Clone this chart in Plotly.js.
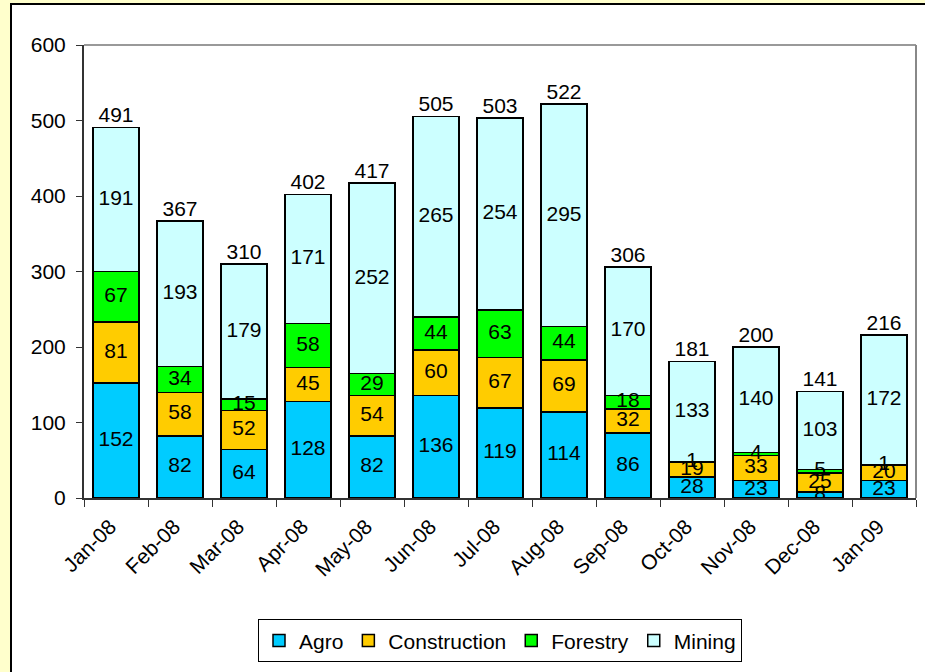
<!DOCTYPE html>
<html>
<head>
<meta charset="utf-8">
<script src="https://cdn.plot.ly/plotly-3.0.1.min.js"></script>
<style>
  html, body { margin:0; padding:0; background:#FFFFCC; overflow:hidden; width:925px; height:672px; }
  #frame { position:absolute; left:10px; top:3px; border-left:2px solid #000; border-top:2px solid #000; background:#fff; width:930px; height:680px; }
  #chart { position:absolute; left:0; top:0; width:913px; height:667px; }
</style>
</head>
<body>
<div id="frame"><div id="chart"></div></div>
<script>
const months = ["Jan-08","Feb-08","Mar-08","Apr-08","May-08","Jun-08","Jul-08","Aug-08","Sep-08","Oct-08","Nov-08","Dec-08","Jan-09"];
const agro = [152, 82, 64, 128, 82, 136, 119, 114, 86, 28, 23, 8, 23];
const construction = [81, 58, 52, 45, 54, 60, 67, 69, 32, 19, 33, 25, 20];
const forestry = [67, 34, 15, 58, 29, 44, 63, 44, 18, 1, 4, 5, 1];
const mining = [191, 193, 179, 171, 252, 265, 254, 295, 170, 133, 140, 103, 172];

const series = [
  {name:"Agro", values:agro, color:"#00CCFF"},
  {name:"Construction", values:construction, color:"#FFCC00"},
  {name:"Forestry", values:forestry, color:"#00FF00"},
  {name:"Mining", values:mining, color:"#CCFFFF"}
];

const FONT = "Arial";
const FS = 21;
const traces = [];
const base = months.map(() => 0);
const labelTraces = [];
series.forEach(s => {
  traces.push({
    type:"bar", name:s.name, x:months, y:s.values,
    marker:{color:s.color, line:{color:"#000", width:1.5}},
    hoverinfo:"skip"
  });
  const mids = s.values.map((v,i) => base[i] + v/2);
  labelTraces.push({
    type:"scatter", mode:"text", x:months, y:mids, text:s.values.map(String),
    textposition:"middle center", textfont:{family:FONT, size:FS, color:"#000"},
    showlegend:false, hoverinfo:"skip", cliponaxis:false
  });
  s.values.forEach((v,i) => base[i] += v);
});
const totals = base.slice();
labelTraces.push({
  type:"scatter", mode:"text", x:months, y:totals, text:totals.map(String),
  textposition:"top center", textfont:{family:FONT, size:FS, color:"#000"},
  showlegend:false, hoverinfo:"skip", cliponaxis:false
});

const layout = {
  width:913, height:667,
  margin:{l:72, r:9, t:40, b:172},
  paper_bgcolor:"#fff", plot_bgcolor:"#fff",
  barmode:"stack", bargap:0.28,
  font:{family:FONT, size:FS, color:"#000"},
  showlegend:true,
  legend:{orientation:"h", x:0.5, xanchor:"center", y:-0.268, yanchor:"top",
          bordercolor:"#000", borderwidth:1, bgcolor:"#fff",
          font:{family:FONT, size:FS, color:"#000"}, traceorder:"normal"},
  xaxis:{type:"category", range:[-0.5, 12.5], tickangle:-45, tickson:"boundaries", ticks:"outside", ticklen:7,
         ticklabelstandoff:6, ticklabelshift:-6,
         tickcolor:"#333", showline:true, linecolor:"#333", linewidth:2, showgrid:false,
         tickfont:{family:FONT, size:FS}, fixedrange:true, zeroline:false},
  yaxis:{range:[0,600], dtick:100, ticks:"outside", ticklen:6, ticklabelstandoff:6, tickcolor:"#333",
         showline:true, linecolor:"#333", linewidth:2, showgrid:false, zeroline:false,
         tickfont:{family:FONT, size:FS}, fixedrange:true},
  shapes:[
    {type:"line", xref:"paper", yref:"paper", x0:0, x1:1, y0:1, y1:1, line:{color:"#999", width:2}},
    {type:"line", xref:"paper", yref:"paper", x0:1, x1:1, y0:0, y1:1, line:{color:"#888", width:2}}
  ]
};

Plotly.newPlot("chart", traces.concat(labelTraces), layout, {staticPlot:true, displayModeBar:false});
</script>
</body>
</html>
